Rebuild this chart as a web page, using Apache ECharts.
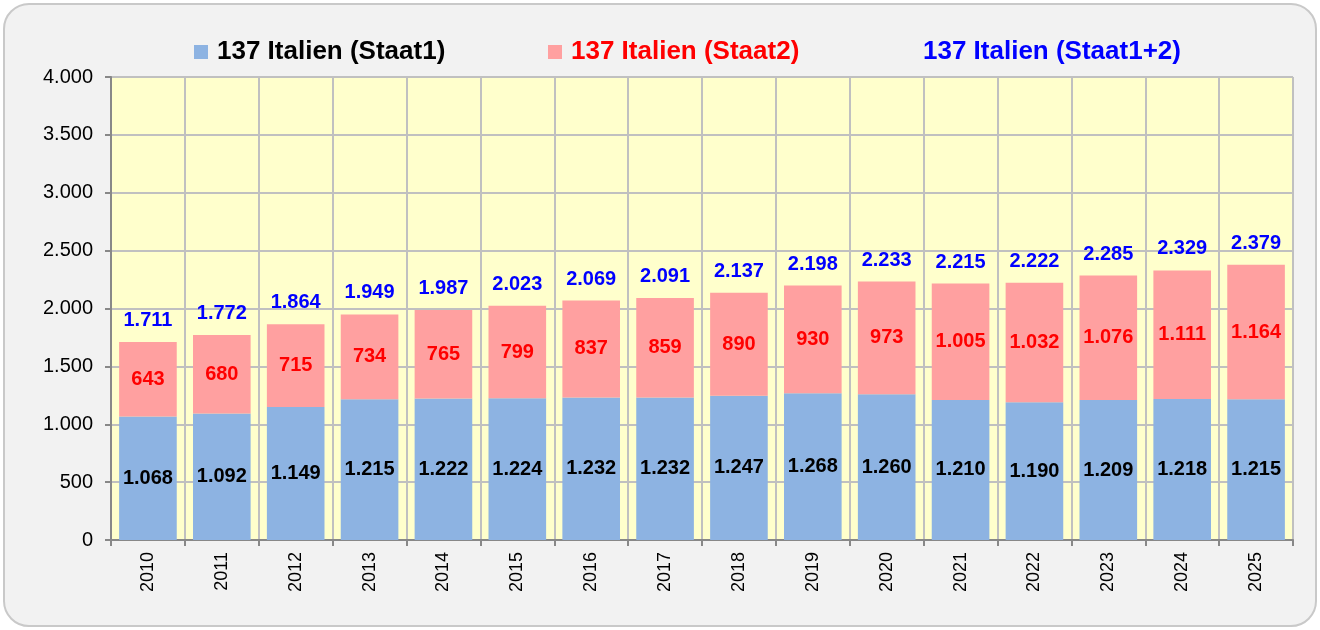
<!DOCTYPE html>
<html><head><meta charset="utf-8">
<script src="https://cdn.jsdelivr.net/npm/echarts@6/dist/echarts.min.js"></script>
<style>
html,body{margin:0;padding:0;background:#fff;}
#frame{position:absolute;left:3px;top:3px;width:1314px;height:624px;box-sizing:border-box;border:2px solid #c9c9c9;border-radius:26px;background:#f2f2f2;}
#chart{position:absolute;left:0;top:0;width:1320px;height:630px;}
</style></head>
<body>
<div id="frame"></div>
<div id="chart"></div>
<script>
const categories = ['2010','2011','2012','2013','2014','2015','2016','2017','2018','2019','2020','2021','2022','2023','2024','2025'];
const staat1 = [1068,1092,1149,1215,1222,1224,1232,1232,1247,1268,1260,1210,1190,1209,1218,1215];
const staat2 = [643,680,715,734,765,799,837,859,890,930,973,1005,1032,1076,1111,1164];
const total = [1711,1772,1864,1949,1987,2023,2069,2091,2137,2198,2233,2215,2222,2285,2329,2379];
const yTicks = [0,500,1000,1500,2000,2500,3000,3500,4000];
const names = ['137 Italien (Staat1)','137 Italien (Staat2)','137 Italien (Staat1+2)'];

function fmt(v){
  const s = String(Math.round(v));
  return s.replace(/\B(?=(\d{3})+(?!\d))/g,'.');
}
const FONT = 'Liberation Sans, Arial, sans-serif';
const chart = echarts.init(document.getElementById('chart'), null, {renderer:'canvas'});
const legendBase = {top:34, itemWidth:14, itemHeight:14, itemGap:10, selectedMode:false,
  textStyle:{fontFamily:FONT, fontSize:26, fontWeight:'bold', padding:[0,0,0,4]}};
function lg(left, name, color, iconColor){
  const d = {name:name, icon:'rect', textStyle:{color:color, fontFamily:FONT, fontSize:26, fontWeight:'bold', padding:[0,0,0,4]}};
  if (iconColor) d.itemStyle = {color:iconColor, opacity:1};
  return Object.assign({}, legendBase, {left:left, data:[d]});
}
chart.setOption({
  animation:false,
  backgroundColor:'transparent',
  legend:[
    lg(189, names[0], '#000000'),
    lg(543, names[1], '#ff0000'),
    lg(895, names[2], '#0000ff', 'rgba(0,0,0,0)')
  ],
  grid:{left:111, right:27, top:77, bottom:90, show:true, backgroundColor:'#ffffcc', borderWidth:0},
  xAxis:{
    type:'category', data:categories,
    axisLine:{lineStyle:{color:'#888888', width:2}},
    axisTick:{show:true, length:6, lineStyle:{color:'#888888', width:2}},
    splitLine:{show:true, lineStyle:{color:'#c0c0c0', width:2}},
    axisLabel:{rotate:90, color:'#000', fontFamily:FONT, fontSize:18, margin:12}
  },
  yAxis:{
    type:'value', min:yTicks[0], max:yTicks[yTicks.length-1], interval:500,
    axisLine:{show:true, lineStyle:{color:'#888888', width:2}},
    axisTick:{show:true, length:6, lineStyle:{color:'#888888', width:2}},
    splitLine:{show:true, lineStyle:{color:'#c0c0c0', width:2}},
    axisLabel:{color:'#000', fontFamily:FONT, fontSize:20, margin:18, formatter:v=>fmt(v)}
  },
  series:[
    {name:names[0], type:'bar', stack:'s', data:staat1, barCategoryGap:'22%',
     itemStyle:{color:'#8db3e2'},
     label:{show:true, position:'inside', color:'#000', fontFamily:FONT, fontSize:20, fontWeight:'bold', formatter:p=>fmt(p.value)}},
    {name:names[1], type:'bar', stack:'s', data:staat2,
     itemStyle:{color:'#ffa0a0'},
     label:{show:true, position:'inside', color:'#ff0000', fontFamily:FONT, fontSize:20, fontWeight:'bold', formatter:p=>fmt(p.value)}},
    {name:names[2], type:'scatter', data:total, symbolSize:1, itemStyle:{color:'rgba(0,0,0,0)', opacity:1},
     label:{show:true, position:'top', distance:11, color:'#0000ff', opacity:1, fontFamily:FONT, fontSize:20, fontWeight:'bold', formatter:p=>fmt(p.value)}}
  ]
});
</script>
</body></html>
